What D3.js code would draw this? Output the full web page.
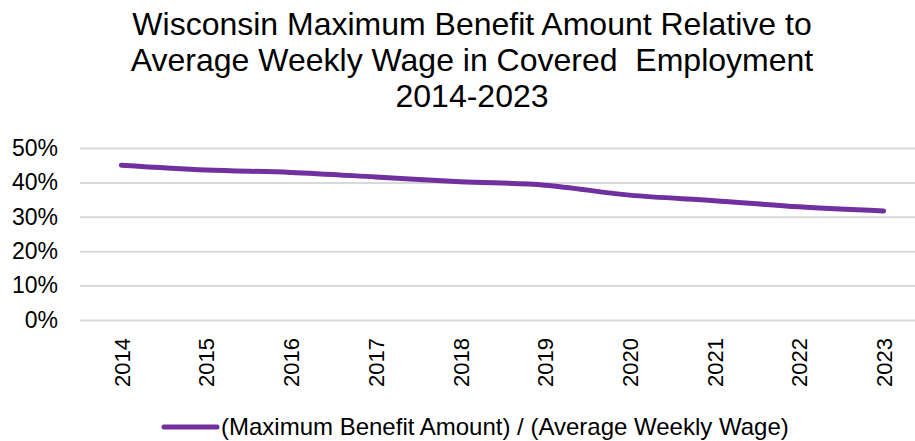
<!DOCTYPE html>
<html><head><meta charset="utf-8">
<script src="https://cdn.jsdelivr.net/npm/d3@7"></script>
<style>body{margin:0;background:#fff}svg{display:block;font-family:"Liberation Sans",Arial,sans-serif}</style>
</head><body><svg id="c" width="915" height="441"></svg>
<script>
const years = ["2014","2015","2016","2017","2018","2019","2020","2021","2022","2023"];
const ratio = [0.450, 0.436, 0.429, 0.416, 0.402, 0.392, 0.363, 0.347, 0.329, 0.317];
const yTicks = [0, 0.1, 0.2, 0.3, 0.4, 0.5];
const titleLines = ["Wisconsin Maximum Benefit Amount Relative to", "Average Weekly Wage in Covered  Employment", "2014-2023"];
const seriesName = "(Maximum Benefit Amount) / (Average Weekly Wage)";
const color = "#7030a0";

const svg = d3.select("#c");
const x = d3.scalePoint().domain(years).range([79, 926]).padding(0.5);
const y = d3.scaleLinear().domain([0, 0.5]).range([320, 148]);

svg.append("g").selectAll("text").data(titleLines).join("text")
  .attr("x", 472).attr("y", (d,i)=>35+i*36).attr("text-anchor","middle")
  .attr("font-size", 32).attr("fill","#000").style("white-space","pre").text(d=>d);

const ga = svg.append("g").attr("transform","translate(80,0)")
  .call(d3.axisLeft(y).tickValues(yTicks).tickFormat(d3.format(".0%")).tickSize(-835).tickPadding(22));
ga.select(".domain").remove();
ga.selectAll("line").attr("stroke","#d9d9d9").attr("stroke-width",2);
ga.selectAll("text").attr("font-size",23).attr("fill","#000").attr("font-family","Liberation Sans, Arial, sans-serif");

const gx = svg.append("g").attr("transform","translate(0,320)")
  .call(d3.axisBottom(x).tickSize(0));
gx.select(".domain").remove();
gx.selectAll(".tick text").attr("font-size",22).attr("fill","#000").attr("font-family","Liberation Sans, Arial, sans-serif")
  .attr("transform","rotate(-90)").attr("text-anchor","end").attr("dy","0.36em").attr("dx","-18").attr("y",0).attr("x",0);

svg.append("path").datum(ratio)
  .attr("d", d3.line().x((d,i)=>x(years[i])).y(d=>y(d)).curve(d3.curveMonotoneX))
  .attr("fill","none").attr("stroke",color).attr("stroke-width",5).attr("stroke-linecap","round");

const lg = svg.append("g");
lg.append("line").attr("x1",164).attr("x2",217).attr("y1",427).attr("y2",427)
  .attr("stroke",color).attr("stroke-width",5).attr("stroke-linecap","round");
lg.append("text").attr("x",221).attr("y",427).attr("dy","0.35em").attr("font-size",24).attr("fill","#000").text(seriesName);
</script></body></html>
